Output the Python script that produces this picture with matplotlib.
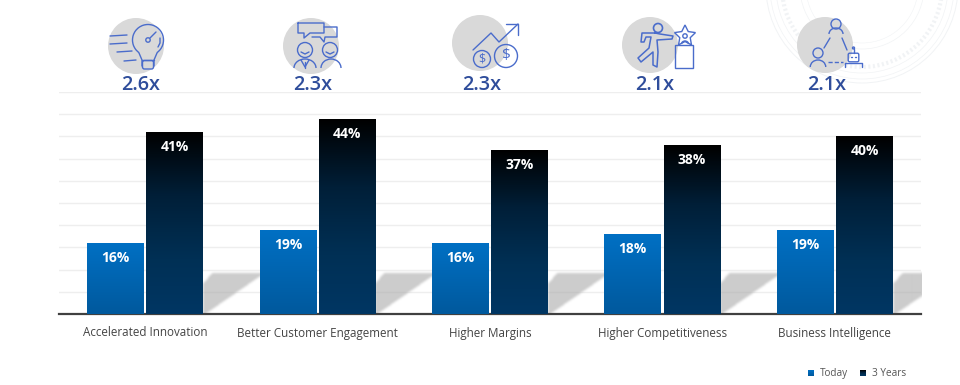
import numpy as np
import matplotlib
matplotlib.use('Agg')
import matplotlib.pyplot as plt
from matplotlib.colors import LinearSegmentedColormap
from matplotlib.patches import Circle, Rectangle, Polygon, Arc, FancyBboxPatch
from matplotlib.path import Path

plt.rcParams['font.family'] = ['Open Sans', 'DejaVu Sans']

categories = ['Accelerated Innovation', 'Better Customer Engagement', 'Higher Margins',
              'Higher Competitiveness', 'Business Intelligence']
today = [16, 19, 16, 18, 19]
three_years = [41, 44, 37, 38, 40]
multiples = ['2.6x', '2.3x', '2.3x', '2.1x', '2.1x']

BLUE = '#4a6ccb'
TITLE = '#2f4d9b'
bar_w = 0.33

fig = plt.figure(figsize=(9.6, 3.85), dpi=100)

# overlay in pixels, for the watermark behind the chart
bg = fig.add_axes([0, 0, 1, 1], zorder=0)
bg.set_xlim(0, 960)
bg.set_ylim(385, 0)
bg.axis('off')

ax = fig.add_axes([59 / 960, (385 - 314) / 385, 862 / 960, 222 / 385], zorder=1)
ax.patch.set_alpha(0)
ax.set_xlim(-0.5, 4.5)
ax.set_ylim(0, 50)
ax.set_yticks(range(0, 51, 5))
ax.set_yticklabels([])
ax.tick_params(axis='y', length=0)
ax.tick_params(axis='x', length=0, pad=9)
ax.grid(axis='y', color='#eeeeee', linewidth=1)
ax.set_axisbelow(True)
for s in ['top', 'left', 'right']:
    ax.spines[s].set_visible(False)
ax.spines['bottom'].set_color('#404040')
ax.spines['bottom'].set_linewidth(1.6)
ax.set_xticks(range(len(categories)))
ax.set_xticklabels(categories, fontsize=8.4, color='#444444')

cm_today = LinearSegmentedColormap.from_list('t', ['#0070c4', '#00599d'])
cm_3y = LinearSegmentedColormap.from_list('y', [(0, '#000000'), (0.35, '#001f38'),
                                                (0.7, '#003055'), (1, '#003663')])


def grad_bar(x, h, cmap):
    bar = ax.bar(x, h, bar_w, color='none', linewidth=0, zorder=3)[0]
    im = ax.imshow(np.linspace(0, 1, 128).reshape(-1, 1), cmap=cmap, aspect='auto',
                   extent=(x - bar_w / 2, x + bar_w / 2, 0, h), zorder=3)
    im.set_clip_path(bar)


def soft_shadow(i):
    # blurred parallelogram, one pixel per cell
    dx = 172.4 * i
    px = np.arange(190, 275) + dx
    py = np.arange(262, 320)
    xx, yy = np.meshgrid(px, py)
    corners = [(203, 283), (212, 272), (262, 272), (262, 274), (204, 314), (203, 314)]
    mask = Path([(x + dx, y) for x, y in corners]).contains_points(np.c_[xx.ravel(), yy.ravel()])
    mask = mask.reshape(xx.shape).astype(float)
    kernel = np.ones(3) / 3
    for _ in range(2):
        mask = np.apply_along_axis(lambda r: np.convolve(r, kernel, mode='same'), 0, mask)
        mask = np.apply_along_axis(lambda r: np.convolve(r, kernel, mode='same'), 1, mask)
    rgba = np.zeros(mask.shape + (4,))
    rgba[..., :3] = 176 / 255
    rgba[..., 3] = mask * 0.65
    # pixel extent back to data units
    x0 = (px[0] - 59) / 172.4 - 0.5
    x1 = (px[-1] + 1 - 59) / 172.4 - 0.5
    y_top = (314 - py[0]) / 4.44
    y_bot = (314 - py[-1] - 1) / 4.44
    ax.imshow(rgba, aspect='auto', extent=(x0, x1, y_bot, y_top), zorder=2, interpolation='bilinear')


for i in range(len(categories)):
    soft_shadow(i)

for i in range(len(categories)):
    xa = i - 0.172
    xb = i + 0.172
    grad_bar(xa, today[i], cm_today)
    grad_bar(xb, three_years[i], cm_3y)
    ax.annotate(f'{today[i]}%', (xa, today[i]), xytext=(0, -15), textcoords='offset pixels',
                ha='center', va='center', color='white', fontsize=10, fontweight='bold', zorder=5)
    ax.annotate(f'{three_years[i]}%', (xb, three_years[i]), xytext=(0, -15), textcoords='offset pixels',
                ha='center', va='center', color='white', fontsize=10, fontweight='bold', zorder=5)
ax.set_xlim(-0.5, 4.5)
ax.set_ylim(0, 50)

# watermark rings top right
for r, lw in [(96, 0.7), (92, 0.5), (86, 0.5), (62, 0.5), (56, 0.4)]:
    bg.add_patch(Circle((862, -13), r, fill=False, edgecolor='#f1f3f5', linewidth=lw))
bg.add_patch(Circle((862, -13), 80, fill=False, edgecolor='#f1f3f5', linewidth=3, linestyle=(0, (0.5, 0.6))))

# icon layer, above the chart
ic = fig.add_axes([0, 0, 1, 1], zorder=2)
ic.patch.set_alpha(0)
ic.axis('off')

for cx, cy in [(136, 46), (311, 46), (480, 43), (650, 45), (825, 45)]:
    ic.add_patch(Circle((cx, cy), 28, color='#d9d9d9', linewidth=0))


def line(xs, ys, lw=1.0, **kw):
    ic.plot(xs, ys, color=BLUE, linewidth=lw, solid_capstyle='round', **kw)


def ring(x, y, r, lw=1.0):
    ic.add_patch(Circle((x, y), r, fill=False, edgecolor=BLUE, linewidth=lw))


def shoulders(x, y, w, h):
    ic.add_patch(Arc((x, y), w, h, theta1=180, theta2=360, edgecolor=BLUE, linewidth=1.0))


# bulb
ic.add_patch(Arc((148, 40), 31, 31, theta1=125, theta2=55, edgecolor=BLUE, linewidth=1.0))
line([139, 142, 142], [53, 60, 66])
line([157, 154, 154], [53, 60, 66])
line([142, 154], [60, 60])
ic.add_patch(FancyBboxPatch((143, 61), 10, 7.5, boxstyle='round,pad=0.5,rounding_size=2',
                            fill=False, edgecolor=BLUE, linewidth=1.0))
ring(148, 40, 2.2)
line([150, 156], [38, 32])
line([160, 160, 158], [38, 43, 47])
line([110, 127], [36, 35])
line([110, 127], [44, 43])
line([117, 132], [52, 51])
line([124, 136], [61, 60])

# people talking
line([298, 298, 304, 304, 310, 324, 324, 298], [23, 33, 33, 38, 33, 33, 23, 23])
line([324, 337, 337, 325, 324, 320, 312], [27, 27, 37, 37, 42, 37, 37])
ring(305, 50, 7.5)
ring(330, 50, 7.5)
line([301, 305, 309], [52, 54, 52])
line([326, 330, 334], [52, 54, 52])
shoulders(305, 68, 22, 18)
shoulders(331, 68, 20, 18)
line([301, 305, 309], [60, 67, 60])
line([305, 305], [62, 68])

# money and growth
line([473, 491, 499, 518], [50, 33, 42, 24])
line([506, 518, 518], [24, 24, 35])
ring(482, 59, 8.5)
ring(506, 56, 11.5)
ic.text(482, 59, '$', color=BLUE, fontsize=9, ha='center', va='center')
ic.text(506, 56, '$', color=BLUE, fontsize=11, ha='center', va='center')

# runner and star, traced as one outline
ring(658, 28, 4.5, lw=1.2)
runner_x = [655, 642, 641, 644, 646, 651, 649, 638, 641, 653, 653, 657, 658, 657, 672, 673, 660, 655]
runner_y = [33, 33, 42, 42, 37, 37, 48, 58, 62, 52, 65, 67, 52, 40, 39, 36, 34, 33]
line(runner_x, runner_y, lw=1.1)
ang = np.deg2rad(np.arange(0, 360, 36) - 90)
rad = np.where(np.arange(10) % 2 == 0, 11, 5.5)
ic.add_patch(Polygon(np.c_[685 + rad * np.cos(ang), 36 + rad * np.sin(ang)], closed=True,
                     fill=False, edgecolor=BLUE, linewidth=1.0))
ring(685, 36, 2.2)
shoulders(685, 44, 7, 6)
ic.add_patch(Rectangle((675, 45), 18, 23, fill=False, edgecolor=BLUE, linewidth=1.0))

# people and robot
ring(836, 24, 5)
shoulders(836, 34, 14, 12)
ring(818, 53, 5)
shoulders(818, 67, 15.5, 14)
line([824, 830], [48, 38])
line([842, 847], [38, 50])
line([828, 843], [62, 62], linestyle=(0, (3, 1.5)))
ic.add_patch(FancyBboxPatch((849, 54), 9, 7, boxstyle='round,pad=0.8,rounding_size=1.5',
                            fill=False, edgecolor=BLUE, linewidth=1.0))
line([845, 845, 862, 862], [67, 63, 63, 67])
line([853.5, 853.5], [53, 49])
ring(853.5, 48, 1)
line([851, 852], [57, 57])
line([855, 856], [57, 57])

for x, t in zip([141, 313, 482, 654.5, 827], multiples):
    ic.text(x, 85, t, color=TITLE, fontsize=14.3, fontweight='semibold',
            ha='center', va='center')

# legend
grad = np.linspace(0, 1, 32).reshape(-1, 1)
ic.imshow(grad, cmap=cm_today, aspect='auto', extent=(808, 814, 376, 370))
ic.imshow(grad, cmap=cm_3y, aspect='auto', extent=(860, 866, 376, 370))
ic.text(820, 376, 'Today', color='#555555', fontsize=7.2, va='baseline')
ic.text(872, 376, '3 Years', color='#555555', fontsize=7.2, va='baseline')

ic.set_xlim(0, 960)
ic.set_ylim(385, 0)

fig.savefig('out.png', dpi=100)
